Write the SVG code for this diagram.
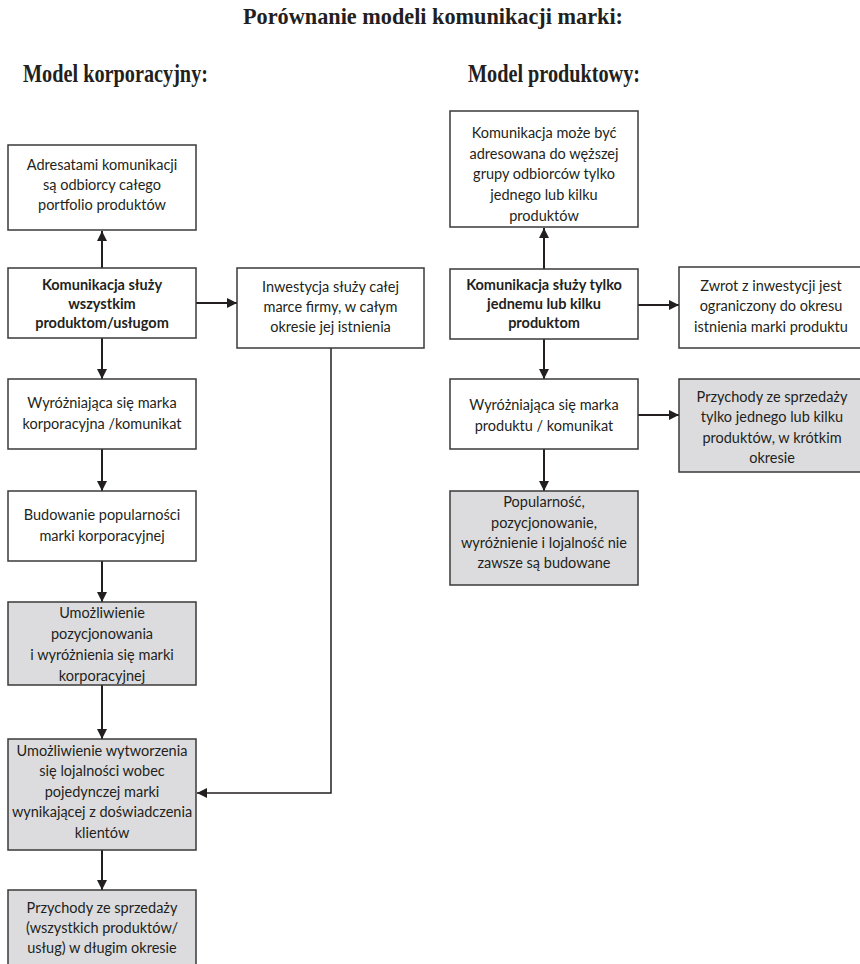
<svg xmlns="http://www.w3.org/2000/svg" width="860" height="964" viewBox="0 0 860 964">
<defs>
<marker id="ah" viewBox="0 0 10 10" refX="10" refY="5" markerWidth="10" markerHeight="10" markerUnits="userSpaceOnUse" orient="auto">
<path d="M0,0 L10,5 L0,10 Z" fill="#231f20"/>
</marker>
</defs>
<style>
.box{fill:#fff;stroke:#3a3a3a;stroke-width:1.5}
.grey{fill:#dcdcde;stroke:#3a3a3a;stroke-width:1.5}
.t{font-family:Lato,"Open Sans",sans-serif;font-size:14.5px;fill:#231f20;text-anchor:middle}
.b{font-weight:bold}
.h{font-family:"Liberation Serif",serif;font-weight:bold;fill:#231f20}
.c{fill:none;stroke:#231f20;stroke-width:2}
.c1{fill:none;stroke:#231f20;stroke-width:1.5}
</style>
<rect width="860" height="964" fill="#fff"/>
<g id="titles">
<text class="h" x="243" y="24" font-size="24" textLength="380" lengthAdjust="spacingAndGlyphs">Porównanie modeli komunikacji marki:</text>
<text class="h" x="23" y="82" font-size="25" textLength="185" lengthAdjust="spacingAndGlyphs">Model korporacyjny:</text>
<text class="h" x="468" y="82" font-size="25" textLength="172" lengthAdjust="spacingAndGlyphs">Model produktowy:</text>
</g>
<g id="connectors">
<line class="c" x1="102" y1="268" x2="102" y2="231" marker-end="url(#ah)"/>
<line class="c" x1="196" y1="303" x2="237" y2="303" marker-end="url(#ah)"/>
<line class="c" x1="102" y1="338" x2="102" y2="379" marker-end="url(#ah)"/>
<line class="c" x1="102" y1="449" x2="102" y2="491" marker-end="url(#ah)"/>
<line class="c" x1="102" y1="561" x2="102" y2="602" marker-end="url(#ah)"/>
<line class="c" x1="102" y1="685" x2="102" y2="739" marker-end="url(#ah)"/>
<line class="c" x1="102" y1="850" x2="102" y2="890" marker-end="url(#ah)"/>
<polyline class="c1" points="331,348 331,793 197,793" marker-end="url(#ah)"/>
<line class="c" x1="544" y1="269" x2="544" y2="228" marker-end="url(#ah)"/>
<line class="c" x1="638" y1="305" x2="679" y2="305" marker-end="url(#ah)"/>
<line class="c" x1="544" y1="339" x2="544" y2="379" marker-end="url(#ah)"/>
<line class="c" x1="638" y1="415" x2="679" y2="415" marker-end="url(#ah)"/>
<line class="c" x1="544" y1="449" x2="544" y2="491" marker-end="url(#ah)"/>
</g>
<g id="n1"><rect class="box" x="8" y="145" width="188" height="85"/>
<text class="t" x="102" y="170">Adresatami komunikacji</text>
<text class="t" x="102" y="190">są odbiorcy całego</text>
<text class="t" x="102" y="210">portfolio produktów</text></g>
<g id="n2"><rect class="box" x="8" y="268" width="188" height="70"/>
<text class="t b" x="102" y="290">Komunikacja służy</text>
<text class="t b" x="102" y="309">wszystkim</text>
<text class="t b" x="102" y="328">produktom/usługom</text></g>
<g id="n3"><rect class="box" x="237" y="268" width="187" height="80"/>
<text class="t" x="330.5" y="292">Inwestycja służy całej</text>
<text class="t" x="330.5" y="312">marce firmy, w całym</text>
<text class="t" x="330.5" y="332">okresie jej istnienia</text></g>
<g id="n4"><rect class="box" x="8" y="379" width="188" height="70"/>
<text class="t" x="102" y="408">Wyróżniająca się marka</text>
<text class="t" x="102" y="429">korporacyjna /komunikat</text></g>
<g id="n5"><rect class="box" x="8" y="491" width="188" height="70"/>
<text class="t" x="102" y="520">Budowanie popularności</text>
<text class="t" x="102" y="541">marki korporacyjnej</text></g>
<g id="n6"><rect class="grey" x="8" y="602" width="188" height="83"/>
<text class="t" x="102" y="618">Umożliwienie</text>
<text class="t" x="102" y="639">pozycjonowania</text>
<text class="t" x="102" y="660">i wyróżnienia się marki</text>
<text class="t" x="102" y="681">korporacyjnej</text></g>
<g id="n7"><rect class="grey" x="8" y="739" width="188" height="111"/>
<text class="t" x="102" y="756">Umożliwienie wytworzenia</text>
<text class="t" x="102" y="776">się lojalności wobec</text>
<text class="t" x="102" y="797">pojedynczej marki</text>
<text class="t" x="102" y="817">wynikającej z doświadczenia</text>
<text class="t" x="102" y="838">klientów</text></g>
<g id="n8"><rect class="grey" x="8" y="890" width="188" height="80"/>
<text class="t" x="102" y="913">Przychody ze sprzedaży</text>
<text class="t" x="102" y="933">(wszystkich produktów/</text>
<text class="t" x="102" y="953">usług) w długim okresie</text></g>
<g id="r1"><rect class="box" x="450" y="111" width="188" height="116"/>
<text class="t" x="544" y="138">Komunikacja może być</text>
<text class="t" x="544" y="159">adresowana do węższej</text>
<text class="t" x="544" y="179">grupy odbiorców tylko</text>
<text class="t" x="544" y="200">jednego lub kilku</text>
<text class="t" x="544" y="221">produktów</text></g>
<g id="r2"><rect class="box" x="450" y="269" width="188" height="70"/>
<text class="t b" x="544" y="290">Komunikacja służy tylko</text>
<text class="t b" x="544" y="309">jednemu lub kilku</text>
<text class="t b" x="544" y="328">produktom</text></g>
<g id="r3"><rect class="box" x="679" y="267" width="188" height="81"/>
<text class="t" x="771" y="291">Zwrot z inwestycji jest</text>
<text class="t" x="771" y="311">ograniczony do okresu</text>
<text class="t" x="771" y="332">istnienia marki produktu</text></g>
<g id="r4"><rect class="box" x="450" y="379" width="188" height="70"/>
<text class="t" x="544" y="410">Wyróżniająca się marka</text>
<text class="t" x="544" y="431">produktu / komunikat</text></g>
<g id="r5"><rect class="grey" x="679" y="379" width="188" height="93"/>
<text class="t" x="772" y="402">Przychody ze sprzedaży</text>
<text class="t" x="772" y="422">tylko jednego lub kilku</text>
<text class="t" x="772" y="443">produktów, w krótkim</text>
<text class="t" x="772" y="463">okresie</text></g>
<g id="r6"><rect class="grey" x="450" y="491" width="188" height="94"/>
<text class="t" x="544" y="507">Popularność,</text>
<text class="t" x="544" y="528">pozycjonowanie,</text>
<text class="t" x="544" y="548">wyróżnienie i lojalność nie</text>
<text class="t" x="544" y="568">zawsze są budowane</text></g>
</svg>
